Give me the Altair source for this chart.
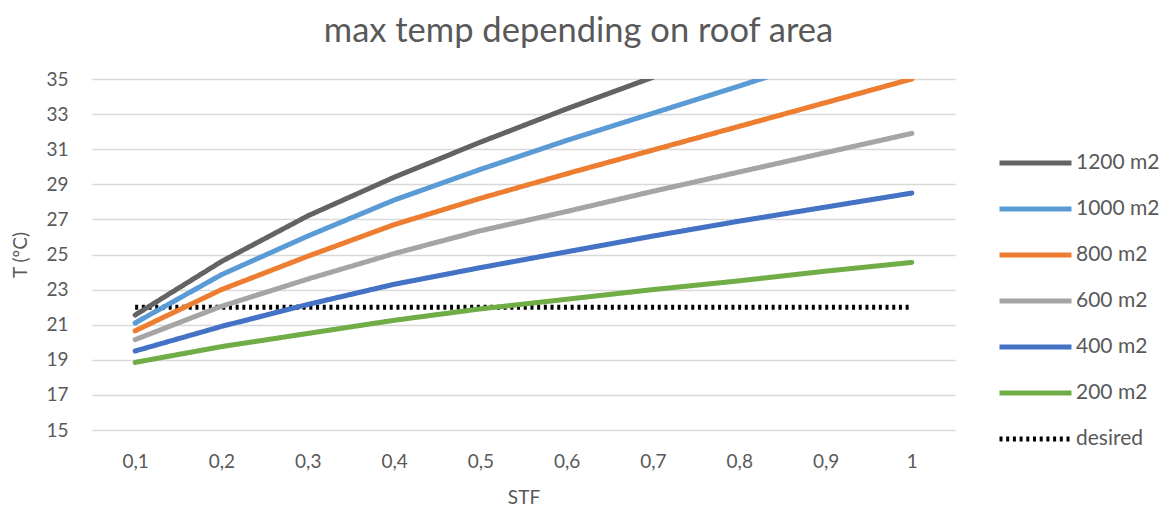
import altair as alt
import pandas as pd

stf = ["0,1", "0,2", "0,3", "0,4", "0,5", "0,6", "0,7", "0,8", "0,9", "1"]
series_order = ["1200 m2", "1000 m2", "800 m2", "600 m2", "400 m2", "200 m2", "desired"]

t1200 = [21.55, 24.6, 27.2, 29.4, 31.4, 33.3, 35.1, 36.8, 38.4, 40.0]
t1000 = [21.1, 23.85, 26.05, 28.1, 29.85, 31.5, 33.05, 34.6, 36.2, 37.7]
t800 = [20.65, 23.0, 24.9, 26.7, 28.2, 29.6, 30.95, 32.3, 33.65, 35.0]
t600 = [20.15, 22.05, 23.6, 25.05, 26.35, 27.45, 28.6, 29.7, 30.8, 31.9]
t400 = [19.5, 20.9, 22.15, 23.3, 24.25, 25.15, 26.05, 26.9, 27.7, 28.5]
t200 = [18.85, 19.75, 20.5, 21.25, 21.9, 22.45, 23.0, 23.5, 24.05, 24.55]
desired = [22, 22, 22, 22, 22, 22, 22, 22, 22, 22]

colors = ["#636363", "#5B9BD5", "#ED7D31", "#A5A5A5", "#4472C4", "#70AD47", "#000000"]
dashes = [[1, 0], [1, 0], [1, 0], [1, 0], [1, 0], [1, 0], [3, 3.7]]
widths = [5, 5, 5, 5, 5, 5, 3]

rows = []
for name, vals in zip(series_order, [t1200, t1000, t800, t600, t400, t200, desired]):
    for s, v in zip(stf, vals):
        rows.append({"series": name, "STF": s, "T": v})
df = pd.DataFrame(rows)

FONT = "Lato"
TXT = "#595959"

leg = alt.Legend(
    title=None,
    orient="none",
    legendX=905,
    legendY=74,
    symbolType="stroke",
    symbolSize=5184,
    clipHeight=20,
    rowPadding=25,
    labelFontSize=21,
    labelFont=FONT,
    labelColor=TXT,
    labelOffset=2,
    padding=0,
)

base = alt.Chart(df).encode(
    x=alt.X(
        "STF:O",
        sort=stf,
        scale=alt.Scale(type="point", padding=0.5),
        axis=alt.Axis(
            title="STF",
            labelAngle=0,
            labelPadding=22,
            titlePadding=17,
            grid=False,
        ),
    ),
    y=alt.Y(
        "T:Q",
        scale=alt.Scale(domain=[15, 35], nice=False, zero=False),
        axis=alt.Axis(
            title="T (ºC)",
            values=list(range(15, 36, 2)),
            labelPadding=24,
            titlePadding=15,
        ),
    ),
    color=alt.Color(
        "series:N",
        sort=series_order,
        scale=alt.Scale(domain=series_order, range=colors),
        legend=leg,
    ),
    strokeDash=alt.StrokeDash(
        "series:N",
        sort=series_order,
        scale=alt.Scale(domain=series_order, range=dashes),
        legend=leg,
    ),
    strokeWidth=alt.StrokeWidth(
        "series:N",
        sort=series_order,
        scale=alt.Scale(domain=series_order, range=widths),
        legend=leg,
    ),
)

dotted = base.transform_filter(alt.datum.series == "desired").mark_line(
    clip=True, strokeCap="butt"
)
solid = base.transform_filter(alt.datum.series != "desired").mark_line(
    clip=True, strokeCap="round", strokeJoin="round"
)

chart = (
    alt.layer(dotted, solid)
    .properties(
        width=863,
        height=351,
        title=alt.Title(
            "max temp depending on roof area",
            fontSize=34.5,
            font=FONT,
            fontWeight="normal",
            color=TXT,
            anchor="middle",
            dx=55,
        ),
        autosize=alt.AutoSizeParams(type="none"),
        padding={"left": 84, "top": 71, "right": 207, "bottom": 78},
    )
    .configure_view(stroke=None)
    .configure_axis(
        domain=False,
        ticks=False,
        gridColor="#d9d9d9",
        gridWidth=1.5,
        labelFont=FONT,
        labelFontSize=19,
        labelColor=TXT,
        titleFont=FONT,
        titleFontSize=19,
        titleFontWeight="normal",
        titleColor=TXT,
    )
    .configure_title(offset=21)
)

chart.save("out.html", embed_options={"renderer": "svg", "actions": False})
